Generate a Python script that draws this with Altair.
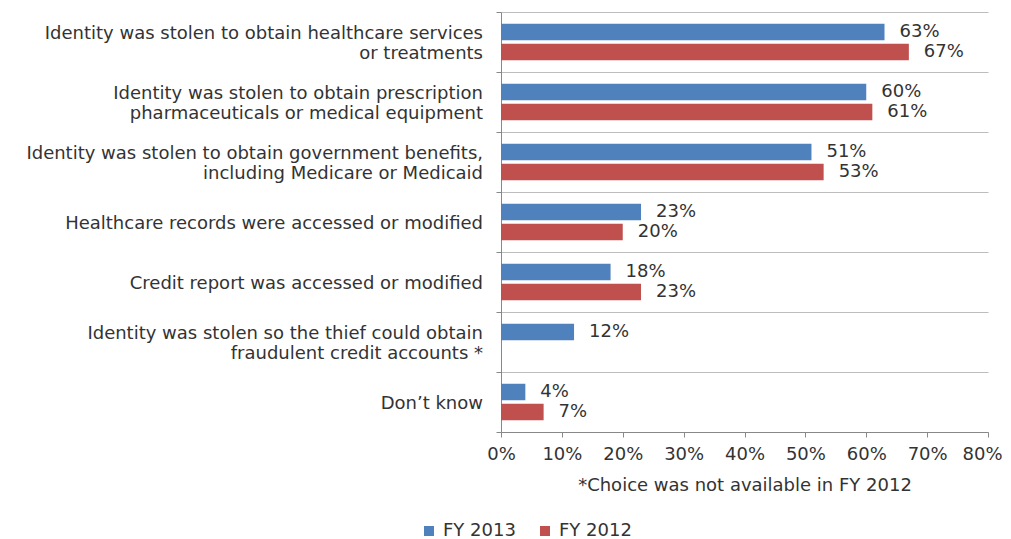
import altair as alt
import pandas as pd

categories = [
    "Identity was stolen to obtain healthcare services|or treatments",
    "Identity was stolen to obtain prescription|pharmaceuticals or medical equipment",
    "Identity was stolen to obtain government benefits,|including Medicare or Medicaid",
    "Healthcare records were accessed or modified",
    "Credit report was accessed or modified",
    "Identity was stolen so the thief could obtain|fraudulent credit accounts *",
    "Don\u2019t know",
]
series = ["FY 2013", "FY 2012"]
fy2013 = [63, 60, 51, 23, 18, 12, 4]
fy2012 = [67, 61, 53, 20, 23, None, 7]
colors = ["#4F81BD", "#C0504D"]
x_ticks = [0, 10, 20, 30, 40, 50, 60, 70, 80]

rows = []
for c, a, b in zip(categories, fy2013, fy2012):
    rows.append({"cat": c, "series": series[0], "value": a})
    rows.append({"cat": c, "series": series[1], "value": b})
df = pd.DataFrame(rows)
cat_df = pd.DataFrame({"cat": categories})

FONT = "DejaVu Sans"
TXT = "#333333"

y_enc = alt.Y(
    "cat:N",
    sort=categories,
    scale=alt.Scale(paddingInner=0, paddingOuter=0),
    axis=alt.Axis(
        title=None,
        labels=False,
        tickBand="extent",
        tickSize=5,
        tickColor="#888888",
        domainColor="#888888",
        grid=True,
        gridColor="#BDBDBD",
        gridWidth=1.2,
    ),
)
yoff_enc = alt.YOffset(
    "series:N",
    sort=series,
    scale=alt.Scale(paddingInner=0.175, paddingOuter=0.5875),
)
x_enc = alt.X(
    "value:Q",
    scale=alt.Scale(domain=[0, 80], nice=False),
    axis=alt.Axis(
        title="*Choice was not available in FY 2012",
        titleFont=FONT,
        titleFontSize=18,
        titleFontWeight="normal",
        titleColor=TXT,
        titlePadding=13,
        values=x_ticks,
        labelExpr="datum.value + '%'",
        labelFont=FONT,
        labelFontSize=18,
        labelColor=TXT,
        labelPadding=8,
        labelFlush=False,
        labelOverlap=False,
        labelOffset={"condition": {"test": "datum.value === 80", "value": -6}, "value": 0},
        tickSize=5,
        tickColor="#888888",
        domainColor="#888888",
        grid=False,
    ),
)

base = alt.Chart(df).transform_filter("isValid(datum.value)")

bars = base.mark_bar().encode(
    y=y_enc,
    yOffset=yoff_enc,
    x=x_enc,
    color=alt.Color(
        "series:N",
        sort=series,
        scale=alt.Scale(domain=series, range=colors),
        legend=alt.Legend(
            title=None,
            orient="none",
            direction="horizontal",
            legendX=-81,
            legendY=510,
            symbolType="square",
            symbolSize=100,
            symbolStrokeWidth=0,
            labelFont=FONT,
            labelFontSize=18,
            labelColor=TXT,
            labelOffset=5,
            columnPadding=20,
        ),
    ),
)

labels = base.mark_text(
    align="left", baseline="middle", dx=15, font=FONT, fontSize=18, color=TXT
).encode(
    y=alt.Y("cat:N", sort=categories),
    yOffset=alt.YOffset("series:N", sort=series),
    x=alt.X("value:Q"),
    text=alt.Text("label:N"),
).transform_calculate(label="datum.value + '%'")

cat_base = alt.Chart(cat_df)
single = cat_base.transform_filter("indexof(datum.cat, '|') < 0").mark_text(
    align="right", baseline="middle", font=FONT, fontSize=18, color=TXT, dy=2
).encode(
    y=alt.Y("cat:N", sort=categories),
    x=alt.value(-18),
    text=alt.Text("cat:N"),
)
double = cat_base.transform_filter("indexof(datum.cat, '|') >= 0").mark_text(
    align="right", baseline="middle", font=FONT, fontSize=18, color=TXT,
    lineBreak="|", lineHeight=20, dy=-8,
).encode(
    y=alt.Y("cat:N", sort=categories),
    x=alt.value(-18),
    text=alt.Text("cat:N"),
)

chart = (
    alt.layer(bars, labels, single, double)
    .properties(
        width=487,
        height=420,
        autosize=alt.AutoSizeParams(type="none"),
        padding={"left": 493, "top": 4, "right": 15, "bottom": 107},
        background="white",
    )
    .configure_view(stroke=None)
)

chart.save("out.html", embed_options={"renderer": "svg", "actions": False})
